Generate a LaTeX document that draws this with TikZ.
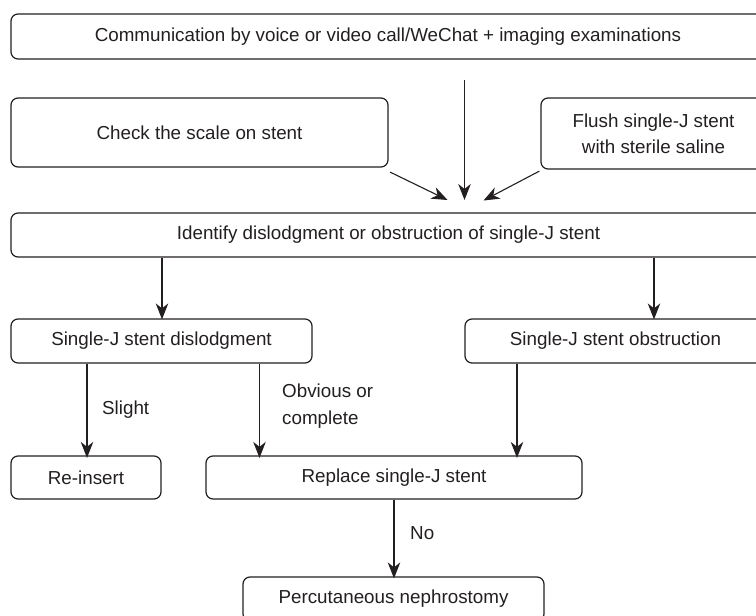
\documentclass[tikz,border=0pt]{standalone}
\usepackage{fontspec}
\setmainfont{Liberation Sans}
\usetikzlibrary{arrows.meta}
\definecolor{ink}{HTML}{231F20}
\tikzset{
  stepbox/.style={draw=ink, text=ink, rounded corners=7pt, line width=1.2pt, inner sep=0pt, align=center,
    font=\fontsize{18.8}{26}\selectfont},
  arr/.style={draw=ink, line width=1.1pt, -{Stealth[length=16pt,width=12.5pt,inset=5pt]}},
  lbl/.style={text=ink, inner sep=0pt, anchor=west, align=left, font=\fontsize{18.8}{27}\selectfont}
}
\begin{document}
\begin{tikzpicture}[x=1pt,y=-1pt]
\useasboundingbox (0,0) rectangle (756,616);
\clip (0,0) rectangle (756,616);
% boxes
\node[stepbox, minimum width=754pt, minimum height=45pt] (top) at (388,36.5) {Communication by voice or video call/WeChat + imaging examinations};
\node[stepbox, minimum width=377pt, minimum height=69pt] (check) at (199.5,132.5) {Check the scale on stent};
\node[stepbox, minimum width=225pt, minimum height=71pt] (flush) at (653.5,133.5) {Flush single-J stent\\with sterile saline};
\node[stepbox, minimum width=755pt, minimum height=44pt] (ident) at (388.5,235) {Identify dislodgment or obstruction of single-J stent};
\node[stepbox, minimum width=301pt, minimum height=44pt] (dis) at (161.5,341) {Single-J stent dislodgment};
\node[stepbox, minimum width=301pt, minimum height=44pt] (obs) at (615.5,341) {Single-J stent obstruction};
\node[stepbox, minimum width=150pt, minimum height=43pt] (rein) at (86,477.5) {Re-insert};
\node[stepbox, minimum width=376pt, minimum height=43pt] (repl) at (394,477.5) {Replace single-J stent};
\node[stepbox, minimum width=301pt, minimum height=44pt] (perc) at (393.5,599) {Percutaneous nephrostomy};
% free ends of the converging arrows
\coordinate (vstart) at (464.5,80);
\coordinate (vend) at (464.5,200);
\coordinate (lend) at (447.5,200);
\coordinate (rend) at (483.5,200.5);
\draw[arr] (vstart) -- (vend);
\draw[arr] (check.south east) ++(1.5,4.5) -- (lend);
\draw[arr] (flush.south west) ++(-1,1.5) -- (rend);
% lower arrows
\draw[arr] (ident.south -| 162,0) -- ([yshift=-1pt]dis.north -| 162,0);
\draw[arr] (ident.south -| 654,0) -- ([yshift=-1pt]obs.north -| 654,0);
\draw[arr] (dis.south -| 87,0) -- ([yshift=-2.5pt]rein.north -| 87,0);
\draw[arr] (dis.south -| 259.5,0) -- ([yshift=-2.5pt]repl.north -| 259.5,0);
\draw[arr] (obs.south -| 517,0) -- ([yshift=-2.5pt]repl.north -| 517,0);
\draw[arr] (repl.south -| 394,0) -- ([yshift=-2pt]perc.north -| 394,0);
% labels
\node[lbl] (lslight) at (102,410) {Slight};
\node[lbl] (lobv) at (282,406.5) {Obvious or\\complete};
\node[lbl] (lno) at (410,533) {No};
\end{tikzpicture}
\end{document}
